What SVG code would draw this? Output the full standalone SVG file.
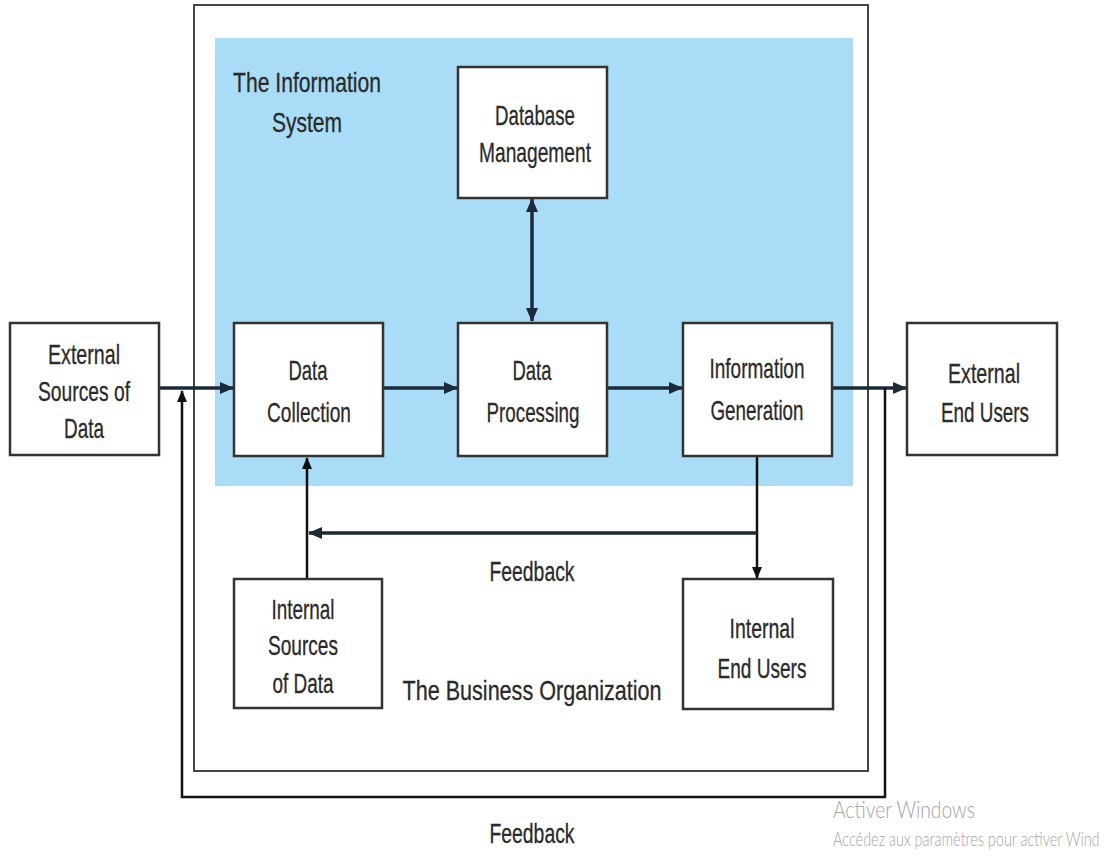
<svg xmlns="http://www.w3.org/2000/svg" width="1117" height="861" viewBox="0 0 1117 861">
<defs>
<marker id="ah" markerUnits="userSpaceOnUse" markerWidth="14" markerHeight="12" refX="13" refY="6" orient="auto-start-reverse">
<path d="M0,0 L14,6 L0,12 Z" fill="#1c2a38"/>
</marker>
<marker id="ahs" markerUnits="userSpaceOnUse" markerWidth="12" markerHeight="10" refX="11" refY="5" orient="auto-start-reverse">
<path d="M0,0 L12,5 L0,10 Z" fill="#111"/>
</marker>
</defs>
<style>
.box{fill:#fff;stroke:#333;stroke-width:2.5}
.t{font-family:"Liberation Sans",Arial,sans-serif;font-size:28px;fill:#2a2a2a;stroke:#2a2a2a;stroke-width:0.3;text-anchor:middle}
.main{fill:none;stroke:#1c2a38;stroke-width:3.5}
.thin{fill:none;stroke:#111;stroke-width:2.5}
.wm{font-family:Lato,"Open Sans",sans-serif;font-weight:300;fill:#a3a3a3}
</style>
<rect width="1117" height="861" fill="#fff"/>
<g id="business-organization">
<rect x="194" y="5" width="674" height="766" fill="#fff" stroke="#444" stroke-width="2"/>
<text class="t" x="532" y="700" textLength="259" lengthAdjust="spacingAndGlyphs">The Business Organization</text>
</g>
<g id="information-system">
<rect x="215" y="38" width="638" height="448" fill="#a9dcf6"/>
<text class="t" x="307" y="92" textLength="148" lengthAdjust="spacingAndGlyphs">The Information</text>
<text class="t" x="307" y="132" textLength="70" lengthAdjust="spacingAndGlyphs">System</text>
</g>
<g id="connectors">
<line class="main" x1="159" y1="388" x2="233" y2="388" marker-end="url(#ah)"/>
<line class="main" x1="383" y1="388" x2="457" y2="388" marker-end="url(#ah)"/>
<line class="main" x1="607" y1="388" x2="682" y2="388" marker-end="url(#ah)"/>
<line class="main" x1="832" y1="388" x2="906" y2="388" marker-end="url(#ah)"/>
<line class="main" x1="532" y1="199" x2="532" y2="321" stroke-width="3" marker-start="url(#ah)" marker-end="url(#ah)"/>
<line class="thin" x1="307" y1="579" x2="307" y2="458" marker-end="url(#ahs)"/>
<line class="thin" x1="757" y1="457" x2="757" y2="578" marker-end="url(#ahs)"/>
<line class="main" x1="757" y1="533" x2="309" y2="533" marker-end="url(#ah)"/>
<polyline class="thin" points="885,388 885,797 182,797 182,391" stroke-width="3" marker-end="url(#ahs)"/>
<text class="t" x="532" y="581" textLength="85" lengthAdjust="spacingAndGlyphs">Feedback</text>
<text class="t" x="532" y="843" textLength="85" lengthAdjust="spacingAndGlyphs">Feedback</text>
</g>
<g id="external-sources">
<rect class="box" x="10" y="323" width="149" height="132"/>
<text class="t" x="84" y="364" textLength="72" lengthAdjust="spacingAndGlyphs">External</text>
<text class="t" x="84" y="401" textLength="92" lengthAdjust="spacingAndGlyphs">Sources of</text>
<text class="t" x="84" y="438" textLength="40" lengthAdjust="spacingAndGlyphs">Data</text>
</g>
<g id="data-collection">
<rect class="box" x="234" y="323" width="149" height="133"/>
<text class="t" x="308" y="380" textLength="39" lengthAdjust="spacingAndGlyphs">Data</text>
<text class="t" x="309" y="422" textLength="84" lengthAdjust="spacingAndGlyphs">Collection</text>
</g>
<g id="data-processing">
<rect class="box" x="458" y="323" width="149" height="133"/>
<text class="t" x="532" y="380" textLength="39" lengthAdjust="spacingAndGlyphs">Data</text>
<text class="t" x="533" y="422" textLength="93" lengthAdjust="spacingAndGlyphs">Processing</text>
</g>
<g id="information-generation">
<rect class="box" x="683" y="323" width="149" height="133"/>
<text class="t" x="757" y="378" textLength="95" lengthAdjust="spacingAndGlyphs">Information</text>
<text class="t" x="757" y="420" textLength="93" lengthAdjust="spacingAndGlyphs">Generation</text>
</g>
<g id="external-end-users">
<rect class="box" x="907" y="323" width="150" height="132"/>
<text class="t" x="984" y="383" textLength="72" lengthAdjust="spacingAndGlyphs">External</text>
<text class="t" x="985" y="422" textLength="88" lengthAdjust="spacingAndGlyphs">End Users</text>
</g>
<g id="database-management">
<rect class="box" x="458" y="67" width="149" height="131"/>
<text class="t" x="535" y="125" textLength="80" lengthAdjust="spacingAndGlyphs">Database</text>
<text class="t" x="535" y="162" textLength="112" lengthAdjust="spacingAndGlyphs">Management</text>
</g>
<g id="internal-sources">
<rect class="box" x="234" y="579" width="148" height="129"/>
<text class="t" x="303" y="619" textLength="63" lengthAdjust="spacingAndGlyphs">Internal</text>
<text class="t" x="303" y="655" textLength="70" lengthAdjust="spacingAndGlyphs">Sources</text>
<text class="t" x="303" y="693" textLength="61" lengthAdjust="spacingAndGlyphs">of Data</text>
</g>
<g id="internal-end-users">
<rect class="box" x="683" y="579" width="150" height="130"/>
<text class="t" x="762" y="638" textLength="65" lengthAdjust="spacingAndGlyphs">Internal</text>
<text class="t" x="762" y="678" textLength="89" lengthAdjust="spacingAndGlyphs">End Users</text>
</g>
<g id="watermark">
<text class="wm" x="833" y="818" font-size="24" textLength="142" lengthAdjust="spacingAndGlyphs">Activer Windows</text>
<text class="wm" transform="translate(833,846) scale(0.85,1.1)" x="0" y="0" font-size="17">Accédez aux paramètres pour activer Wind</text>
</g>
</svg>
